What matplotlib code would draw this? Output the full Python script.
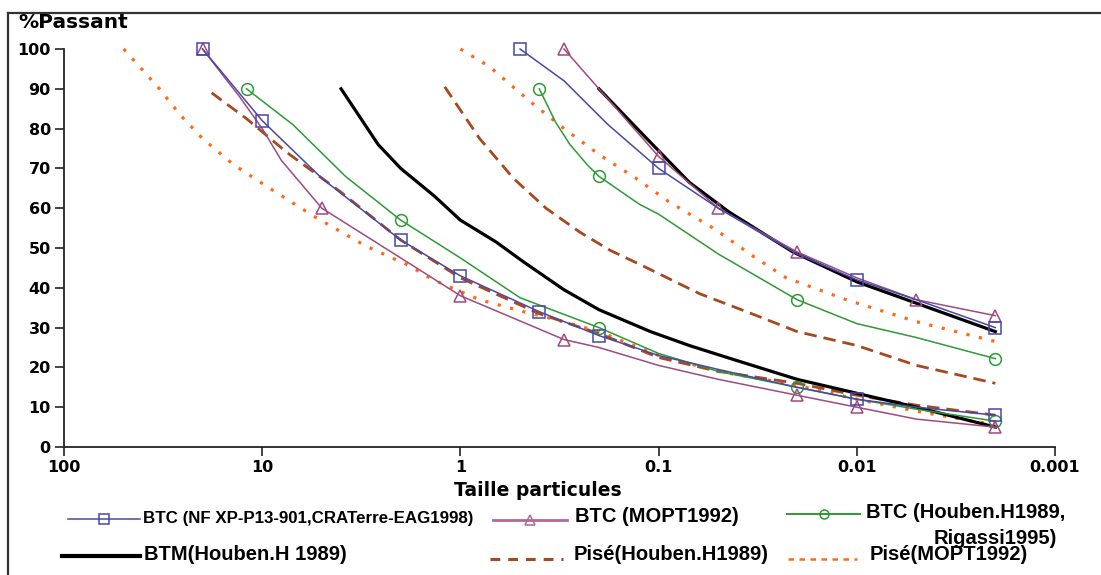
import matplotlib
matplotlib.use("Agg")
import matplotlib.pyplot as plt
from matplotlib.lines import Line2D
from matplotlib.ticker import FixedLocator, FixedFormatter, NullLocator

# Particle size (mm) / percent passing for each grading envelope (lower and upper bound)
btc_nf_low_size = [20, 10, 5, 2, 1, 0.4, 0.2, 0.1, 0.05, 0.02, 0.01, 0.005, 0.002]
btc_nf_low_pass = [100, 82, 67.5, 52, 43, 34, 28, 23, 19.5, 15, 12, 10, 8]
btc_nf_low_marked = [20, 10, 2, 1, 0.4, 0.2, 0.01, 0.002]
btc_nf_high_size = [0.5, 0.3, 0.18, 0.1, 0.05, 0.02, 0.01, 0.005, 0.002]
btc_nf_high_pass = [100, 92, 81, 70, 60, 48.5, 42, 37, 30]
btc_nf_high_marked = [0.5, 0.1, 0.01, 0.002]

btc_mopt_low_size = [20, 13, 10, 8, 5, 2, 1, 0.3, 0.2, 0.1, 0.05, 0.02, 0.01, 0.005, 0.002]
btc_mopt_low_pass = [100, 88, 80, 72, 60, 47.5, 38, 27, 25, 20.5, 17, 13, 10, 7, 5]
btc_mopt_low_marked = [20, 5, 1, 0.3, 0.02, 0.01, 0.002]
btc_mopt_high_size = [0.3, 0.2, 0.1, 0.05, 0.02, 0.01, 0.005, 0.002]
btc_mopt_high_pass = [100, 90, 73, 60, 49, 42.5, 37, 33]
btc_mopt_high_marked = [0.3, 0.1, 0.05, 0.02, 0.005, 0.002]

btc_hr_low_size = [12, 7, 3.8, 2, 1, 0.5, 0.2, 0.1, 0.05, 0.02, 0.01, 0.005, 0.002]
btc_hr_low_pass = [90, 81, 68, 57, 47.5, 37.5, 30, 23.5, 19, 15, 12, 9.5, 6.5]
btc_hr_low_marked = [12, 2, 0.2, 0.02, 0.002]
btc_hr_high_size = [0.4, 0.33, 0.28, 0.23, 0.2, 0.125, 0.1, 0.05, 0.02, 0.01, 0.005, 0.002]
btc_hr_high_pass = [90, 81.5, 76, 71, 68, 61, 58.5, 48.5, 37, 31, 27.5, 22.2]
btc_hr_high_marked = [0.4, 0.2, 0.02, 0.002]

btm_low_size = [4, 2.6, 2, 1.35, 1, 0.66, 0.48, 0.3, 0.2, 0.11, 0.07, 0.042, 0.02, 0.01, 0.005, 0.002]
btm_low_pass = [90, 76, 70, 63, 57, 51.5, 46.5, 39.5, 34.5, 29, 25.5, 22, 17, 13.5, 10, 5]
btm_high_size = [0.2, 0.12, 0.07, 0.044, 0.021, 0.01, 0.0056, 0.002]
btm_high_pass = [90, 78.5, 66.5, 59, 49, 41.5, 37, 29]

pise_h_low_size = [18, 12, 7.5, 4, 2, 1, 0.4, 0.2, 0.1, 0.05, 0.02, 0.01, 0.005, 0.002]
pise_h_low_pass = [89, 82.5, 74, 64, 52, 42.5, 33.5, 28.5, 22.5, 19, 16, 13, 10.5, 8]
pise_h_high_size = [1.2, 0.8, 0.54, 0.37, 0.25, 0.177, 0.12, 0.062, 0.036, 0.02, 0.01, 0.005, 0.002]
pise_h_high_pass = [90.5, 77.5, 67.5, 60, 54, 49.5, 45.5, 38.5, 34, 29, 25.5, 20.5, 16]

pise_m_low_size = [50, 33, 26, 20, 14, 9.5, 5.5, 3, 1.8, 1.4, 0.8, 0.48, 0.33, 0.2, 0.1, 0.05,
                   0.02, 0.01, 0.005, 0.002]
pise_m_low_pass = [100, 90, 83.5, 77.5, 71, 65.5, 58, 50.5, 45.5, 42.2, 37, 34, 32, 29, 23, 19,
                   15.5, 12, 9, 5.5]
pise_m_high_size = [1, 0.71, 0.45, 0.3, 0.2, 0.13, 0.088, 0.053, 0.0335, 0.0227, 0.0113, 0.005, 0.002]
pise_m_high_pass = [100, 95.5, 87, 80, 73.5, 67.5, 61.5, 55, 48, 42.5, 37, 31.5, 26.5]

x_ticks = [100, 10, 1, 0.1, 0.01, 0.001]
x_tick_labels = ["100", "10", "1", "0.1", "0.01", "0.001"]
y_ticks = [0, 10, 20, 30, 40, 50, 60, 70, 80, 90, 100]

legend_labels = [
    "BTC (NF XP-P13-901,CRATerre-EAG1998)",
    "BTC (MOPT1992)",
    "BTC (Houben.H1989,",
    "BTM(Houben.H 1989)",
    "Pisé(Houben.H1989)",
    "Pisé(MOPT1992)",
]
legend_label_cont = "Rigassi1995)"

BLUE = "#4848a8"
PURPLE = "#a04a80"
GREEN = "#2e9a34"
BROWN = "#a8481e"
ORANGE = "#ff6a1a"

W, H = 1101, 575
fig = plt.figure(figsize=(W / 100, H / 100), dpi=100)
ax = fig.add_axes([64 / W, 1 - 447 / H, (1055 - 64) / W, (447 - 49) / H])

LEG_FONT = ["Liberation Sans", "DejaVu Sans"]


def curve(sizes, passing, marked=None, **style):
    kw = dict(style)
    if marked is not None:
        kw["markevery"] = [i for i, s in enumerate(sizes) if s in marked]
    ax.plot(sizes, passing, clip_on=False, **kw)


mk = dict(markersize=8.5, markerfacecolor="none", markeredgewidth=1.1)
orange_style = dict(color=ORANGE, lw=2.3, linestyle=(0, (1, 3)))
brown_style = dict(color=BROWN, lw=2.0, linestyle=(0, (4.5, 2.5)))
black_style = dict(color="black", lw=2.3)
green_style = dict(color=GREEN, lw=1.1, marker="o", markeredgecolor=GREEN, **mk)
purple_style = dict(color=PURPLE, lw=1.1, marker="^", markeredgecolor=PURPLE, **mk)
blue_style = dict(color=BLUE, lw=1.1, marker="s", markeredgecolor=BLUE, **mk)

curve(pise_m_low_size, pise_m_low_pass, **orange_style)
curve(pise_m_high_size, pise_m_high_pass, **orange_style)
curve(pise_h_low_size, pise_h_low_pass, **brown_style)
curve(pise_h_high_size, pise_h_high_pass, **brown_style)
curve(btm_low_size, btm_low_pass, **black_style)
curve(btm_high_size, btm_high_pass, **black_style)
curve(btc_hr_low_size, btc_hr_low_pass, btc_hr_low_marked, **green_style)
curve(btc_hr_high_size, btc_hr_high_pass, btc_hr_high_marked, **green_style)
curve(btc_mopt_low_size, btc_mopt_low_pass, btc_mopt_low_marked, **purple_style)
curve(btc_mopt_high_size, btc_mopt_high_pass, btc_mopt_high_marked, **purple_style)
curve(btc_nf_low_size, btc_nf_low_pass, btc_nf_low_marked, **blue_style)
curve(btc_nf_high_size, btc_nf_high_pass, btc_nf_high_marked, **blue_style)

ax.set_xscale("log")
ax.set_xlim(100, 0.001)
ax.set_ylim(0, 100)
ax.xaxis.set_major_locator(FixedLocator(x_ticks))
ax.xaxis.set_major_formatter(FixedFormatter(x_tick_labels))
ax.xaxis.set_minor_locator(NullLocator())
ax.set_yticks(y_ticks)
for lab in ax.get_xticklabels() + ax.get_yticklabels():
    lab.set_fontfamily("DejaVu Sans")
    lab.set_fontweight("bold")
    lab.set_fontsize(11.5)
ax.tick_params(axis="both", direction="out", length=6.5, width=1.2, color="#222222", pad=3)
for side in ("top", "right"):
    ax.spines[side].set_visible(False)
for side in ("left", "bottom"):
    ax.spines[side].set_linewidth(1.3)
    ax.spines[side].set_color("#222222")

# frame lines along the top and left of the figure
fig.add_artist(Line2D([8 / W, 1.0], [1 - 13 / H, 1 - 13 / H], transform=fig.transFigure,
                      color="#333333", lw=1.6))
fig.add_artist(Line2D([8 / W, 8 / W], [0.0, 1 - 13 / H], transform=fig.transFigure,
                      color="#333333", lw=1.6))

fig.text(18 / W, 1 - 22 / H, "%Passant", ha="left", va="center",
         family="DejaVu Sans", weight="bold", size=14.5)
fig.text(538 / W, 1 - 490 / H, "Taille particules", ha="center", va="center",
         family="DejaVu Sans", weight="bold", size=13.5)


# legend drawn row by row
def legend_entry(x0, x1, y_line, y_text, text, tx, color, lw, ls="-", marker=None, fs=14.5):
    yl = 1 - y_line / H
    fig.add_artist(Line2D([x0 / W, x1 / W], [yl, yl], transform=fig.transFigure,
                          color=color, lw=lw, linestyle=ls))
    if marker is not None:
        fig.add_artist(Line2D([(x0 + x1) / 2 / W], [yl], transform=fig.transFigure,
                              marker=marker, markersize=6.5, markerfacecolor="none",
                              markeredgecolor=color, markeredgewidth=1.1, linestyle="none"))
    fig.text(tx / W, 1 - y_text / H, text, ha="left", va="center", family=LEG_FONT,
             weight="bold", size=fs)


legend_entry(68, 140, 519, 518, legend_labels[0], 143, BLUE, 1.1, marker="s", fs=12.2)
legend_entry(493, 567, 520, 516, legend_labels[1], 575, "#b06a98", 2.0, marker="^")
legend_entry(787, 860, 514, 512, legend_labels[2], 866, GREEN, 1.4, marker="o")
fig.text(1057 / W, 1 - 538 / H, legend_label_cont, ha="right", va="center", family=LEG_FONT,
         weight="bold", size=14.5)
legend_entry(62, 140, 556, 554, legend_labels[3], 144, "black", 3.0)
legend_entry(490, 563, 559, 555, legend_labels[4], 574, BROWN, 2.2, ls=(0, (3.2, 2.6)))
legend_entry(788, 857, 559, 555, legend_labels[5], 870, ORANGE, 1.8, ls=(0, (2.2, 2.2)))

fig.savefig("out.png", dpi=100, facecolor="white")
